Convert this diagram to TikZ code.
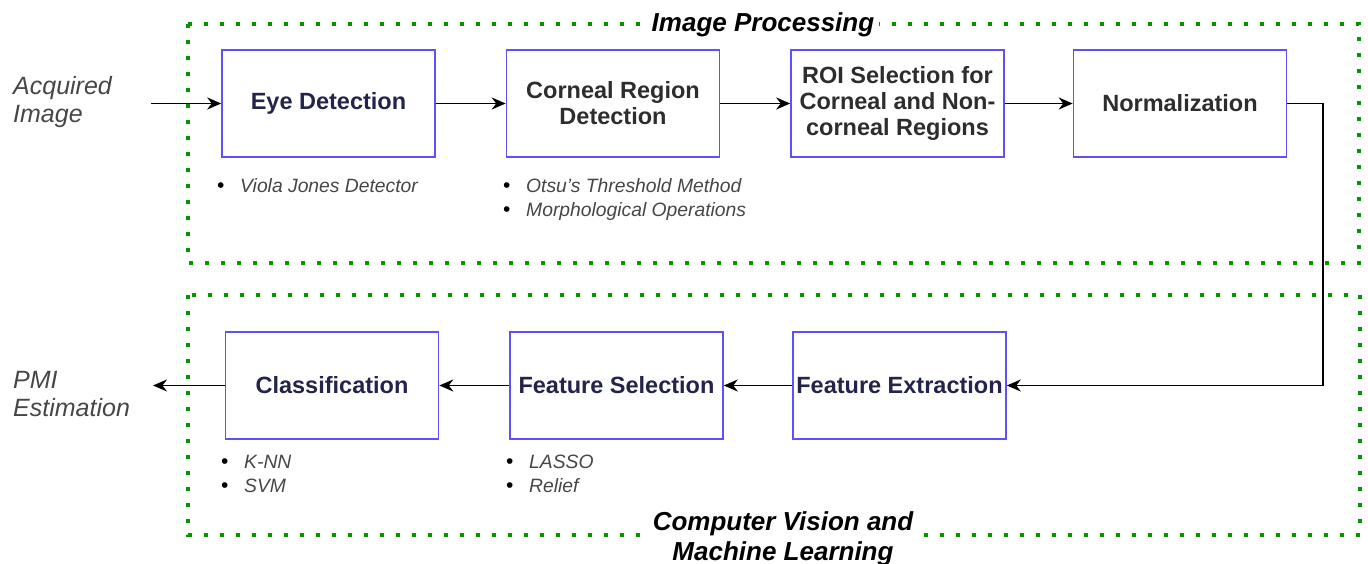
\documentclass[tikz,border=0pt]{standalone}
\usepackage{fontspec}
\setmainfont{Liberation Sans}
\usetikzlibrary{arrows.meta}
\definecolor{boxblue}{RGB}{95,80,250}
\definecolor{dotgreen}{RGB}{0,150,0}
\definecolor{navy}{RGB}{35,35,75}
\definecolor{dgray}{RGB}{45,45,45}
\definecolor{lgray}{RGB}{70,70,70}
\newcommand{\bl}[1]{\makebox[23pt][l]{\color{black}\upshape\fontsize{21}{15}\selectfont\textbullet}#1}
\tikzset{
  procbox/.style={draw=boxblue, line width=1.6pt, minimum width=213pt, minimum height=107pt, inner sep=0pt, align=center, font=\fontsize{23.5}{26}\selectfont\bfseries},
  frame/.style={dotgreen, line width=3.8pt, dash pattern=on 3.8pt off 12.2pt},
  arr/.style={line width=1.9pt, -{Stealth[length=14pt,width=12pt]}},
  title/.style={fill=white, inner sep=5pt, align=center, font=\fontsize{26}{30}\selectfont\bfseries\itshape},
  side/.style={anchor=west, align=left, text=lgray, font=\fontsize{25}{28.5}\selectfont\itshape, inner sep=0pt},
  bullets/.style={anchor=north west, align=left, text=lgray, font=\fontsize{19.3}{24}\selectfont\itshape, inner sep=0pt}
}
\begin{document}
\begin{tikzpicture}[x=1pt,y=-1pt]
\useasboundingbox (0,0) rectangle (1368,564);
% frames
\draw[frame] (188,24) rectangle (1359,263);
\draw[frame] (188,295) rectangle (1360,535);
\node[title] (t1) at (763,25) {Image Processing};
\node[title] (t2) at (783,539) {Computer Vision and\\Machine Learning};
% boxes
\node[procbox, text=navy] (eye) at (328.5,103.5) {Eye Detection};
\node[procbox, text=dgray] (corn) at (613,103.5) {Corneal Region\\Detection};
\node[procbox, text=dgray] (roi) at (897.5,103.5) {ROI Selection for\\Corneal and Non-\\corneal Regions};
\node[procbox, text=dgray] (norm) at (1180,103.5) {Normalization};
\node[procbox, text=navy] (cls) at (332,385.5) {Classification};
\node[procbox, text=navy] (fs) at (616.5,385.5) {Feature Selection};
\node[procbox, text=navy] (fe) at (899.5,385.5) {Feature Extraction};
% side labels
\node[side] (acq) at (13,102) {Acquired\\Image};
\node[side] (pmi) at (13,394) {PMI\\Estimation};
\coordinate (ain) at (151,103.5);
\coordinate (pout) at (153,385.5);
% connectors
\draw[arr] (ain) -- (eye.west);
\draw[arr] (eye.east) -- (corn.west);
\draw[arr] (corn.east) -- (roi.west);
\draw[arr] (roi.east) -- (norm.west);
\draw[arr] (norm.east) -- ++(36,0) |- (fe.east);
\draw[arr] (fe.west) -- (fs.east);
\draw[arr] (fs.west) -- (cls.east);
\draw[arr] (cls.west) -- (pout);
% bullet notes
\node[bullets] (b1) at (217,178) {\bl{Viola Jones Detector}};
\node[bullets] (b2) at (503,178) {\bl{Otsu's Threshold Method}\\\bl{Morphological Operations}};
\node[bullets] (b3) at (221,455) {\bl{K-NN}\\\bl{SVM}};
\node[bullets] (b4) at (506,455) {\bl{LASSO}\\\bl{Relief}};
\end{tikzpicture}
\end{document}
